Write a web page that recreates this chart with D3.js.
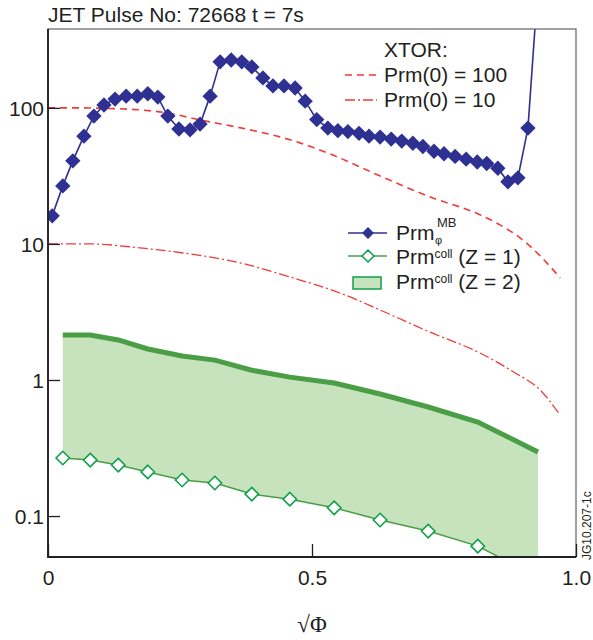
<!DOCTYPE html>
<html>
<head>
<meta charset="utf-8">
<script src="https://cdnjs.cloudflare.com/ajax/libs/d3/7.8.5/d3.min.js"></script>
<style>
  body { margin: 0; background: #fff; }
  text { font-family: "Liberation Sans", Arial, Helvetica, sans-serif; fill: #231f20; }
</style>
</head>
<body>
<div id="chart"></div>
<script>
// Prm_phi^MB (blue diamonds)
var mbX = [0.008, 0.028, 0.047, 0.068, 0.087, 0.106, 0.127, 0.148, 0.169, 0.189,
           0.208, 0.227, 0.248, 0.269, 0.288, 0.307, 0.326, 0.347, 0.367, 0.386,
           0.407, 0.426, 0.447, 0.468, 0.487, 0.509, 0.530, 0.549, 0.568, 0.589,
           0.608, 0.629, 0.650, 0.670, 0.691, 0.710, 0.731, 0.750, 0.771, 0.792,
           0.813, 0.831, 0.852, 0.871, 0.890, 0.909, 0.928];
var mbY = [16.1, 26.7, 40.8, 62, 87, 105, 116, 122, 122, 127,
           120, 87, 70, 69, 76, 122, 218, 225, 218, 200,
           166, 145, 145, 140, 112, 82, 71, 68, 67, 65,
           62, 61, 59, 57, 55, 52, 48, 46, 44, 42,
           40, 39, 36, 28.6, 30.6, 71, 800];

// XTOR runs
var xtorX = [0, 0.060, 0.117, 0.174, 0.225, 0.288, 0.383, 0.439, 0.477, 0.534,
             0.629, 0.723, 0.818, 0.856, 0.894, 0.932, 0.970];
var xtor100 = [100, 100, 99, 96.7, 91.9, 81.6, 68.9, 61.2, 55.3, 45.9,
               31.6, 22.2, 16.4, 13.8, 11.1, 8.18, 5.63];
var xtor10X = [0, 0.080, 0.174, 0.269, 0.364, 0.458, 0.553, 0.629, 0.723, 0.818, 0.881, 0.932, 0.970];
var xtor10 = [10, 10, 9.35, 8.44, 7.25, 5.72, 4.36, 3.27, 2.25, 1.58, 1.15, 0.844, 0.553];

// collisional Prm
var collX = [0.028, 0.080, 0.133, 0.189, 0.254, 0.316, 0.386, 0.458, 0.542, 0.629, 0.720, 0.814, 0.928];
var collZ1 = [0.267, 0.258, 0.237, 0.211, 0.184, 0.175, 0.145, 0.133, 0.115, 0.0935, 0.0776, 0.0601, 0.0356];
var collZ2 = [2.14, 2.14, 1.97, 1.69, 1.50, 1.40, 1.18, 1.05, 0.95, 0.789, 0.633, 0.491, 0.296];

var xTicks = [0, 0.5, 1.0];
var xTickLabels = ["0", "0.5", "1.0"];
var yTicks = [0.1, 1, 10, 100];
var yTickLabels = ["0.1", "1", "10", "100"];

var W = 593, H = 640;
var margin = {top: 29, right: 17, bottom: 83, left: 48};
var width = W - margin.left - margin.right,
    height = H - margin.top - margin.bottom;

var svg = d3.select("#chart").append("svg")
    .attr("width", W).attr("height", H);

var x = d3.scaleLinear().domain([0, 1]).range([margin.left, margin.left + width]);
var y = d3.scaleLog().domain([0.05, 380]).range([margin.top + height, margin.top]);

var blue = "#2e3192", red = "#ef3b39", green = "#4a9e45", lightGreen = "#c7e3bd", diaGreen = "#0fa04a";

svg.append("clipPath").attr("id", "clip")
  .append("rect")
    .attr("x", margin.left).attr("y", margin.top)
    .attr("width", width).attr("height", height);

var plot = svg.append("g").attr("clip-path", "url(#clip)");

function zip(xs, ys) { return xs.map(function(v, i) { return {x: v, y: ys[i]}; }); }

// green band between Z=1 and Z=2
var band = collX.map(function(v, i) { return {x: v, lo: collZ1[i], hi: collZ2[i]}; });
plot.append("path")
    .datum(band)
    .attr("fill", lightGreen)
    .attr("d", d3.area()
        .x(function(d) { return x(d.x); })
        .y0(function(d) { return y(d.lo); })
        .y1(function(d) { return y(d.hi); }));

plot.append("path")
    .datum(zip(collX, collZ2))
    .attr("fill", "none")
    .attr("stroke", green)
    .attr("stroke-width", 5)
    .attr("d", d3.line().x(function(d) { return x(d.x); }).y(function(d) { return y(d.y); }));

// XTOR curves
var smooth = d3.line().curve(d3.curveMonotoneX)
    .x(function(d) { return x(d.x); }).y(function(d) { return y(d.y); });
plot.append("path")
    .datum(zip(xtorX, xtor100))
    .attr("fill", "none").attr("stroke", red).attr("stroke-width", 1.6)
    .attr("stroke-dasharray", "7,5")
    .attr("d", smooth);
plot.append("path")
    .datum(zip(xtor10X, xtor10))
    .attr("fill", "none").attr("stroke", red).attr("stroke-width", 1.3)
    .attr("stroke-dasharray", "10,3,2,3")
    .attr("d", smooth);

// Z = 1 line with open diamonds
var straight = d3.line().x(function(d) { return x(d.x); }).y(function(d) { return y(d.y); });
plot.append("path")
    .datum(zip(collX, collZ1))
    .attr("fill", "none").attr("stroke", green).attr("stroke-width", 1.5)
    .attr("d", straight);

var diamond = d3.symbol().type(d3.symbolDiamond2);
plot.selectAll(".z1")
    .data(zip(collX, collZ1))
    .enter().append("path")
    .attr("class", "z1")
    .attr("transform", function(d) { return "translate(" + x(d.x) + "," + y(d.y) + ")"; })
    .attr("d", diamond.size(115))
    .attr("fill", "#fff").attr("stroke", diaGreen).attr("stroke-width", 1.6);

// MB line with filled diamonds
plot.append("path")
    .datum(zip(mbX, mbY))
    .attr("fill", "none").attr("stroke", blue).attr("stroke-width", 1.6)
    .attr("d", straight);
plot.selectAll(".mb")
    .data(zip(mbX, mbY))
    .enter().append("path")
    .attr("class", "mb")
    .attr("transform", function(d) { return "translate(" + x(d.x) + "," + y(d.y) + ")"; })
    .attr("d", d3.symbol().type(d3.symbolDiamond2).size(150))
    .attr("fill", blue);

// frame
svg.append("rect")
    .attr("x", margin.left).attr("y", margin.top)
    .attr("width", width).attr("height", height)
    .attr("fill", "none").attr("stroke", "#6d6e71").attr("stroke-width", 1.3);
svg.append("path")
    .attr("d", "M" + margin.left + "," + margin.top + "V" + (margin.top + height) + "H" + (margin.left + width))
    .attr("fill", "none").attr("stroke", "#231f20").attr("stroke-width", 1.8);

// axes (inward ticks)
var xAxis = svg.append("g")
    .attr("transform", "translate(0," + (margin.top + height) + ")")
    .call(d3.axisTop(x).tickValues(xTicks).tickFormat(function(d, i) { return xTickLabels[i]; }).tickSize(13).tickSizeOuter(0));
xAxis.select(".domain").remove();
xAxis.selectAll("line").attr("stroke", "#231f20").attr("stroke-width", 1.3);
xAxis.selectAll("text")
    .attr("y", 28).attr("dy", 0)
    .style("font-size", "21px").style("font-family", "Liberation Sans, Arial, sans-serif").attr("fill", "#231f20");

var yAxis = svg.append("g")
    .attr("transform", "translate(" + margin.left + ",0)")
    .call(d3.axisRight(y).tickValues(yTicks).tickFormat(function(d, i) { return yTickLabels[i]; }).tickSize(12).tickSizeOuter(0));
yAxis.select(".domain").remove();
yAxis.selectAll("line").attr("stroke", "#231f20").attr("stroke-width", 1.3);
yAxis.selectAll("text")
    .attr("x", -4).attr("dy", "0.35em")
    .attr("text-anchor", "end")
    .style("font-size", "21px").style("font-family", "Liberation Sans, Arial, sans-serif").attr("fill", "#231f20");

// title
svg.append("text")
    .attr("x", 48).attr("y", 22)
    .style("font-size", "21px")
    .text("JET Pulse No: 72668 t = 7s");

// x label
svg.append("text")
    .attr("x", x(0.5)).attr("y", 632)
    .attr("text-anchor", "middle")
    .style("font-family", "Liberation Serif, 'Times New Roman', serif")
    .style("font-size", "23px")
    .text("\u221A\u03A6");

// figure id
svg.append("text")
    .attr("transform", "translate(591,560) rotate(-90)")
    .style("font-size", "12px")
    .text("JG10.207-1c");

// legend XTOR
svg.append("text").attr("x", 384).attr("y", 57).style("font-size", "21px").text("XTOR:");
var xtorLegend = [{label: "Prm(0) = 100", dash: "7,5", y: 75}, {label: "Prm(0) = 10", dash: "10,3,2,3", y: 100}];
xtorLegend.forEach(function(d) {
  svg.append("line").attr("x1", 345).attr("x2", 377).attr("y1", d.y).attr("y2", d.y)
    .attr("stroke", red).attr("stroke-width", 1.5).attr("stroke-dasharray", d.dash);
  svg.append("text").attr("x", 384).attr("y", d.y + 7).style("font-size", "21px").text(d.label);
});

// legend Prm
var lx = 348;
svg.append("line").attr("x1", lx).attr("x2", lx + 39).attr("y1", 233).attr("y2", 233)
  .attr("stroke", blue).attr("stroke-width", 1.5);
svg.append("path").attr("transform", "translate(" + (lx + 20) + ",233)")
  .attr("d", d3.symbol().type(d3.symbolDiamond2).size(90)).attr("fill", blue);
svg.append("text").attr("x", 396).attr("y", 240).style("font-size", "21px").text("Prm");
svg.append("text").attr("x", 437).attr("y", 227).style("font-size", "13px").text("MB");
svg.append("text").attr("x", 435).attr("y", 244).style("font-size", "11px").text("\u03C6");

svg.append("line").attr("x1", lx).attr("x2", lx + 39).attr("y1", 256).attr("y2", 256)
  .attr("stroke", green).attr("stroke-width", 1.5);
svg.append("path").attr("transform", "translate(" + (lx + 20) + ",256)")
  .attr("d", d3.symbol().type(d3.symbolDiamond2).size(90))
  .attr("fill", "#fff").attr("stroke", diaGreen).attr("stroke-width", 1.5);

var collLegend = [{label: " (Z = 1)", y: 264}, {label: " (Z = 2)", y: 289}];
collLegend.forEach(function(d) {
  var t = svg.append("text").attr("x", 396).attr("y", d.y).style("font-size", "21px");
  t.append("tspan").text("Prm");
  t.append("tspan").attr("dy", -6).style("font-size", "12px").text("coll");
  t.append("tspan").attr("dy", 6).text(d.label);
});
svg.append("rect").attr("x", 353).attr("y", 277).attr("width", 28).attr("height", 12)
  .attr("fill", lightGreen).attr("stroke", diaGreen).attr("stroke-width", 1.5);
</script>
</body>
</html>
